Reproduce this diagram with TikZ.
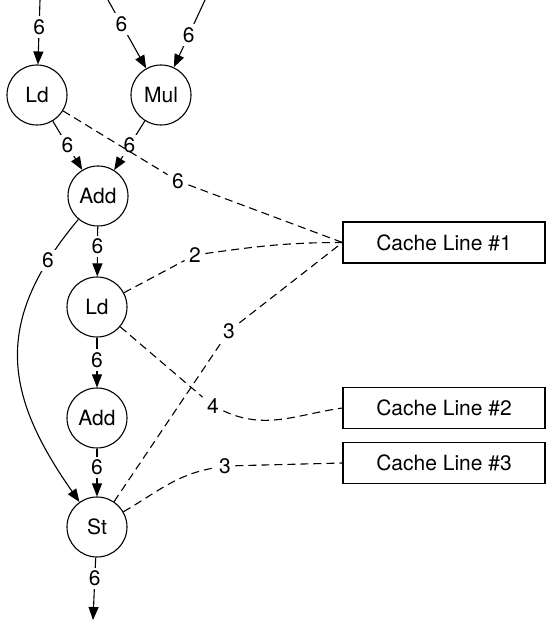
\documentclass[tikz,border=0pt]{standalone}
\usepackage{fontspec}
\setmainfont{TeX Gyre Heros}
\usetikzlibrary{arrows.meta}
\begin{document}
\begin{tikzpicture}
  [x=1pt,y=1pt,line width=1.1pt,
   every node/.style={font=\fontsize{21}{24}\selectfont},
   op/.style={circle,draw,minimum size=60pt,inner sep=0pt},
   cache/.style={draw,minimum width=202pt,minimum height=41pt,inner sep=0pt},
   lat/.style={inner sep=4pt},
   num/.style={fill=white,inner sep=3pt},
   wire/.style={draw,-{Triangle[length=13pt,width=10pt]}},
   ref/.style={draw,dash pattern=on 8pt off 5pt}]
  \useasboundingbox (0,0) rectangle (546,625);

  \node[op] (ld1) at (37,530) {Ld};
  \node[op] (mul) at (161,530) {Mul};
  \node[op] (add1) at (98,429) {Add};
  \node[op] (ld2) at (97,318) {Ld};
  \node[op] (add2) at (97,207) {Add};
  \node[op] (st) at (97,98) {St};

  \node[cache] (cl1) at (444,382.5) {Cache Line \#1};
  \node[cache] (cl2) at (444,217) {Cache Line \#2};
  \node[cache] (cl3) at (444,162) {Cache Line \#3};

  \coordinate (in1) at (40,625);
  \coordinate (in2) at (108,625);
  \coordinate (in3) at (205,625);
  \coordinate (out) at (93,5);

  % latencies on the memory edges
  \node[lat] (d6) at (178,444) {6};
  \node[lat] (d2) at (195,370) {2};
  \node[lat] (d3a) at (229,294) {3};
  \node[lat] (d4) at (213,219) {4};
  \node[lat] (d3b) at (225,159) {3};

\path
    (in1) edge[wire] node[num,pos=.42] {6} (ld1)
    (in2) edge[wire] node[num,pos=.35] {6} (mul)
    (in3) edge[wire] node[num,pos=.52] {6} (mul)
    (ld1) edge[wire] node[num] {6} (add1)
    (mul) edge[wire] node[num] {6} (add1)
    (add1) edge[wire] node[num,pos=.4] {6} (ld2)
    (add1) edge[wire,out=230,in=125,looseness=1.2] node[num,pos=.14] {6} (st)
    (ld2) edge[wire] node[num,pos=.45] {6} (add2)
    (add2) edge[wire] node[num,pos=.4] {6} (st)
    (st) edge[wire] node[num,pos=.33] {6} (out)
;

\path
    (ld1) edge[ref] (d6)
    (d6) edge[ref] (cl1.west)
    (ld2) edge[ref] (d2)
    (d2) edge[ref,out=8,in=180] (cl1.west)
    (st) edge[ref] (d3a)
    (d3a) edge[ref] (cl1.west)
    (ld2) edge[ref] (d4)
    (d4) edge[ref,out=-25,in=188] (cl2.west)
    (st) edge[ref,out=30,in=190] (d3b)
    (d3b) edge[ref] (cl3.west)
;
\end{tikzpicture}
\end{document}
